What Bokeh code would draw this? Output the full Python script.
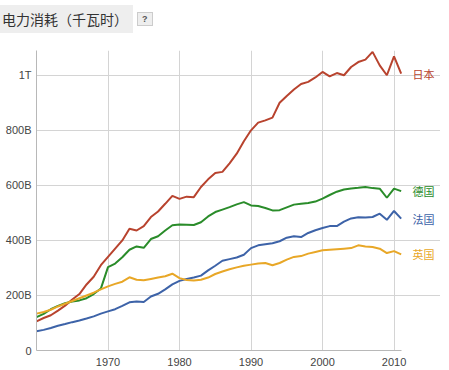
from bokeh.plotting import figure
from bokeh.models import FixedTicker, Range1d, Div
from bokeh.layouts import column
from bokeh.core.properties import value
from bokeh.embed import file_html
from bokeh.resources import INLINE

years = list(range(1960, 2012))

japan = [106, 118, 128, 145, 163, 185, 205, 240, 268, 310,
         340, 370, 400, 442, 436, 452, 485, 505, 533, 562,
         551, 559, 557, 594, 622, 645, 649, 680, 715, 760,
         800, 828, 836, 846, 900, 925, 948, 968, 976, 992,
         1012, 996, 1008, 1000, 1030, 1048, 1057, 1085, 1036, 1000,
         1069, 1006]
germany = [121, 133, 150, 162, 172, 178, 182, 190, 205, 225,
           303, 316, 339, 366, 378, 373, 405, 415, 436, 455,
           458, 457, 456, 466, 487, 503, 512, 521, 531, 539,
           527, 525, 518, 509, 510, 520, 530, 533, 536, 541,
           552, 565, 577, 585, 589, 591, 594, 590, 588, 555,
           588, 579]
france = [70, 75, 82, 90, 96, 103, 109, 116, 124, 134,
          142, 150, 162, 175, 178, 176, 196, 206, 222, 240,
          253, 260, 265, 272, 291, 308, 326, 332, 338, 348,
          372, 382, 386, 390, 397, 410, 415, 412, 427, 437,
          445, 452, 452, 468, 480, 484, 483, 485, 497, 475,
          507, 479]
uk = [134, 140, 148, 160, 170, 180, 190, 200, 210, 222,
      233, 242, 250, 266, 257, 255, 260, 265, 270, 279,
      263, 256, 254, 257, 265, 278, 287, 295, 302, 308,
      312, 316, 318, 310, 318, 330, 340, 343, 352, 358,
      364, 366, 368, 370, 372, 382, 378, 376, 370, 354,
      361, 349]

series_names = ["日本", "德国", "法国", "英国"]
series_values = [japan, germany, france, uk]
series_colors = ["#b8432e", "#2a8c2a", "#3d63a8", "#e8a727"]

y_ticks = [0, 200, 400, 600, 800, 1000]
y_tick_labels = ["0", "200B", "400B", "600B", "800B", "1T"]
x_ticks = [1970, 1980, 1990, 2000, 2010]

title_text = "电力消耗（千瓦时）"

FRAME_W = 404
FRAME_H = 300
LEFT = 36

p = figure(frame_width=FRAME_W, frame_height=FRAME_H,
           output_backend="svg", toolbar_location=None,
           x_range=Range1d(1960, 2016.5), y_range=Range1d(0, 1090),
           min_border_left=LEFT, min_border_right=0, min_border_top=10,
           min_border_bottom=20)

p.outline_line_color = None
p.background_fill_color = "white"
p.border_fill_color = "white"

for name, vals, col in zip(series_names, series_values, series_colors):
    p.line(years, vals, line_color=col, line_width=2)
    p.text(x=[years[-1] + 1.6], y=[vals[-1]], text=[name],
           text_color=col, text_font=value("Noto Sans CJK SC"),
           text_font_size="11px", text_baseline="middle", text_align="left")

p.xaxis.ticker = FixedTicker(ticks=x_ticks)
p.yaxis.ticker = FixedTicker(ticks=y_ticks)
p.yaxis.major_label_overrides = {t: l for t, l in zip(y_ticks, y_tick_labels)}
p.xaxis.major_label_overrides = {t: str(t) for t in x_ticks}
p.xaxis.bounds = (years[0], 2011.05)

for ax in (p.xaxis, p.yaxis):
    ax.axis_line_color = "#b8b8b8"
    ax.major_tick_line_color = None
    ax.minor_tick_line_color = None
    ax.major_tick_out = 0
    ax.major_tick_in = 0
    ax.minor_tick_out = 0
    ax.minor_tick_in = 0
    ax.major_label_text_font = "Liberation Sans"
    ax.major_label_text_font_size = "11px"
    ax.major_label_text_color = "#444444"
p.yaxis.major_label_standoff = 5
p.xaxis.major_label_standoff = 7

p.xgrid.grid_line_color = "#d4d4d4"
p.ygrid.grid_line_color = "#d4d4d4"
p.ygrid.bounds = (years[0], 2011.05)

title_html = (
    '<div style="display:flex;align-items:center;margin-top:5px;">'
    '<span style="background:#eeeeee;padding:6px 5px 6px 2px;'
    'font-family:\'Noto Sans CJK SC\';font-size:14px;line-height:16px;color:#333333;">'
    + title_text +
    '</span>'
    '<span style="margin-left:4px;border:1px solid #cccccc;background:#eeeeee;'
    'font-family:\'Liberation Sans\';font-weight:bold;font-size:9px;line-height:10px;'
    'color:#555555;padding:1px 4px;">?</span></div>'
)
title_div = Div(text=title_html, width=440, height=40, margin=0)

layout = column(title_div, p, spacing=0)

open("out.html", "w").write(file_html(layout, INLINE))
